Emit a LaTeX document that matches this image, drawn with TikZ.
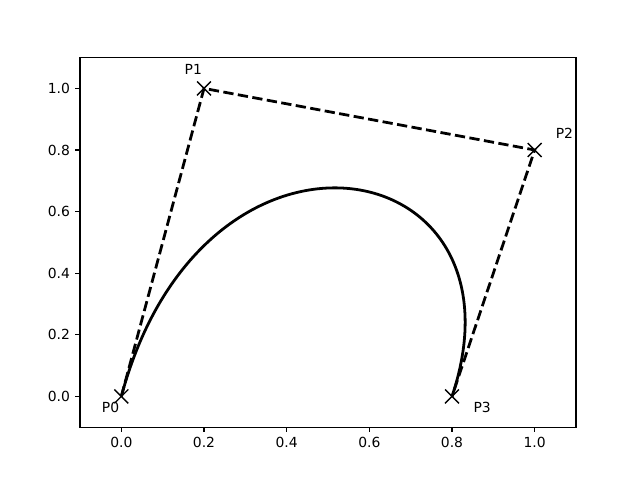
\documentclass[tikz,border=0pt]{standalone}
\usepackage{fontspec}
\setmainfont{DejaVu Sans}
\begin{document}
\begin{tikzpicture}[x=297.6pt,y=221.76pt,
  frame/.style={line width=0.8pt},
  tickmark/.style={line width=0.8pt},
  ticklab/.style={font=\fontsize{10pt}{12pt}\selectfont, inner sep=0pt},
  ctrl/.style={line width=2pt, dash pattern=on 7.4pt off 3.2pt},
  curve/.style={line width=2pt},
  ptlab/.style={font=\fontsize{10pt}{12pt}\selectfont, inner sep=0pt, anchor=center}]
\useasboundingbox (-87.36pt,-60.19pt) rectangle (373.44pt,285.41pt);
% control points
\coordinate (p0) at (0,0);
\coordinate (p1) at (0.2,1);
\coordinate (p2) at (1,0.8);
\coordinate (p3) at (0.8,0);
% axes frame
\draw[frame] (-0.1,-0.1) rectangle (1.1,1.1);
% x ticks
\foreach \v/\t in {0/0.0,0.2/0.2,0.4/0.4,0.6/0.6,0.8/0.8,1/1.0}{
  \draw[tickmark] (\v,-0.1) -- ++(0,-3.5pt);
  \node[ticklab, anchor=north] (xt\t) at ([yshift=-7pt]\v,-0.1) {\t};
}
% y ticks
\foreach \v/\t in {0/0.0,0.2/0.2,0.4/0.4,0.6/0.6,0.8/0.8,1/1.0}{
  \draw[tickmark] (-0.1,\v) -- ++(-3.5pt,0);
  \node[ticklab, anchor=east] (yt\t) at ([xshift=-7pt]-0.1,\v) {\t};
}
% control polygon
\draw[ctrl] (p0) -- (p1) -- (p2) -- (p3);
% Bezier curve
\draw[curve] (p0) .. controls (p1) and (p2) .. (p3);
% markers
\foreach \p in {p0,p1,p2,p3}{
  \draw[line width=1pt] ([shift={(-5pt,-5pt)}]\p) -- ([shift={(5pt,5pt)}]\p);
  \draw[line width=1pt] ([shift={(-5pt,5pt)}]\p) -- ([shift={(5pt,-5pt)}]\p);
}
% labels
\node[ptlab] (l0) at (-0.026,-0.035) {P0};
\node[ptlab] (l1) at (0.174,1.061) {P1};
\node[ptlab] (l2) at (1.072,0.855) {P2};
\node[ptlab] (l3) at (0.873,-0.035) {P3};
\end{tikzpicture}
\end{document}
